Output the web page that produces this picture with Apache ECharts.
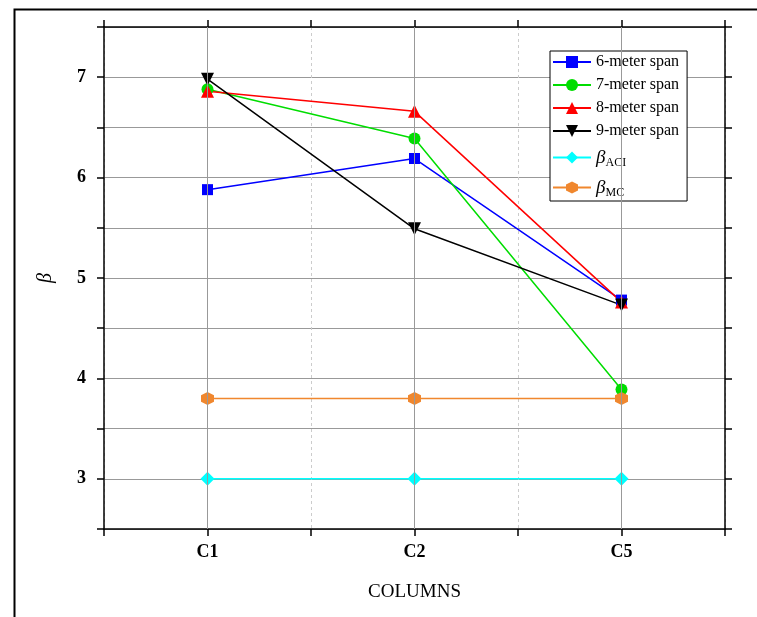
<!DOCTYPE html>
<html><head><meta charset="utf-8">
<script src="https://cdn.jsdelivr.net/npm/echarts@6/dist/echarts.min.js"></script>
<style>html,body{margin:0;padding:0;background:#fff}#c{width:757px;height:617px}</style>
</head><body><div id="c"></div>
<script>
var categories = ['C1', 'C2', 'C5'];
var span6 = [5.88, 6.19, 4.78];
var span7 = [6.88, 6.39, 3.89];
var span8 = [6.86, 6.66, 4.76];
var span9 = [6.98, 5.49, 4.73];
var betaACI = [3, 3, 3];
var betaMC = [3.8, 3.8, 3.8];
var yTicks = [3, 4, 5, 6, 7];

var FONT = '"Liberation Serif", "Times New Roman", serif';
function pts(arr) { return arr.map(function (v, i) { return [i, v]; }); }
var hexPath = 'path://M0,-10L8.66,-5L8.66,5L0,10L-8.66,5L-8.66,-5Z';

function mk(name, data, color, symbol, size, rot) {
  return {
    name: name, type: 'line', data: pts(data), xAxisIndex: 0, yAxisIndex: 0,
    symbol: symbol, symbolSize: size, symbolRotate: rot || 0,
    lineStyle: { color: color, width: 1.5 }, itemStyle: { color: color },
    emphasis: { disabled: true }, animation: false, z: 3
  };
}

var chart = echarts.init(document.getElementById('c'), null, { renderer: 'canvas' });
var axisLineStyle = { color: '#000', width: 1.5 };
var option = {
  backgroundColor: '#fff',
  animation: false,
  grid: { left: 104, top: 27, right: 32, bottom: 88, containLabel: false },
  graphic: [{
    type: 'rect', left: 12, top: 7, silent: true, z: -10,
    shape: { width: 800, height: 700 },
    style: { fill: 'none', stroke: '#000', lineWidth: 2 }
  }],
  legend: {
    orient: 'vertical', left: 550, top: 51,
    data: ['6-meter span', '7-meter span', '8-meter span', '9-meter span', 'βACI', 'βMC'],
    itemWidth: 38, itemHeight: 15, itemGap: 7,
    padding: [3, 8, 2, 2],
    borderColor: '#000', borderWidth: 1, backgroundColor: '#fff',
    textStyle: {
      fontFamily: FONT, fontSize: 16, color: '#000',
      rich: {
        b: { fontFamily: FONT, fontStyle: 'italic', fontSize: 19, color: '#000', lineHeight: 19 },
        s: { fontFamily: FONT, fontSize: 12, color: '#000', padding: [11, 0, 0, 0], lineHeight: 19 }
      }
    },
    formatter: function (n) {
      if (n === 'βACI') return '{b|β}{s|ACI}';
      if (n === 'βMC') return '{b|β}{s|MC}';
      return n;
    }
  },
  xAxis: [{
    type: 'value', position: 'bottom', min: -0.5, max: 2.5, interval: 0.5,
    name: 'COLUMNS', nameLocation: 'middle', nameGap: 54,
    nameTextStyle: { fontFamily: FONT, fontSize: 19, color: '#000' },
    axisLine: { show: true, onZero: false, lineStyle: axisLineStyle },
    axisTick: { show: true, inside: false, length: 7, lineStyle: { color: '#000', width: 1.5 } },
    axisLabel: {
      fontFamily: FONT, fontWeight: 'bold', fontSize: 18, color: '#000', margin: 14,
      formatter: function (v) { return (Number.isInteger(v) && categories[v] !== undefined) ? categories[v] : ''; }
    },
    splitLine: { show: true, lineStyle: { color: '#cccccc', width: 1, type: [3, 3] } }
  }, {
    type: 'value', position: 'top', min: -0.5, max: 2.5, interval: 0.5,
    axisLine: { show: true, onZero: false, lineStyle: axisLineStyle },
    axisTick: { show: true, inside: false, length: 7, lineStyle: { color: '#000', width: 1.5 } },
    axisLabel: { show: false }, splitLine: { show: false }
  }],
  yAxis: [{
    type: 'value', position: 'left', min: 2.5, max: 7.5, interval: 0.5,
    name: 'β', nameLocation: 'middle', nameGap: 48, nameRotate: 90,
    nameTextStyle: { fontFamily: FONT, fontStyle: 'italic', fontSize: 20, color: '#000' },
    axisLine: { show: true, onZero: false, lineStyle: axisLineStyle },
    axisTick: { show: true, inside: false, length: 7, lineStyle: { color: '#000', width: 1.5 } },
    axisLabel: {
      fontFamily: FONT, fontWeight: 'bold', fontSize: 18, color: '#000', margin: 18,
      formatter: function (v) { return yTicks.indexOf(v) >= 0 ? String(v) : ''; }
    },
    splitLine: { show: true, lineStyle: { color: '#999999', width: 1 } }
  }, {
    type: 'value', position: 'right', min: 2.5, max: 7.5, interval: 0.5,
    axisLine: { show: true, onZero: false, lineStyle: axisLineStyle },
    axisTick: { show: true, inside: false, length: 7, lineStyle: { color: '#000', width: 1.5 } },
    axisLabel: { show: false }, splitLine: { show: false }
  }],
  series: [
    {
      name: '_grid', type: 'line', data: [], xAxisIndex: 0, yAxisIndex: 0, z: 1,
      markLine: {
        silent: true, symbol: ['none', 'none'], animation: false,
        label: { show: false },
        lineStyle: { color: '#999999', width: 1, type: 'solid' },
        data: categories.map(function (c, i) { return { xAxis: i }; })
      }
    },
    mk('6-meter span', span6, '#0000ff', 'rect', 11),
    mk('7-meter span', span7, '#00dd00', 'circle', 12),
    mk('8-meter span', span8, '#ff0000', 'triangle', 13),
    mk('9-meter span', span9, '#000000', 'triangle', 13, 180),
    mk('βACI', betaACI, '#00ffff', 'diamond', 14),
    mk('βMC', betaMC, '#f0872e', hexPath, 13)
  ]
};
chart.setOption(option);
</script></body></html>
